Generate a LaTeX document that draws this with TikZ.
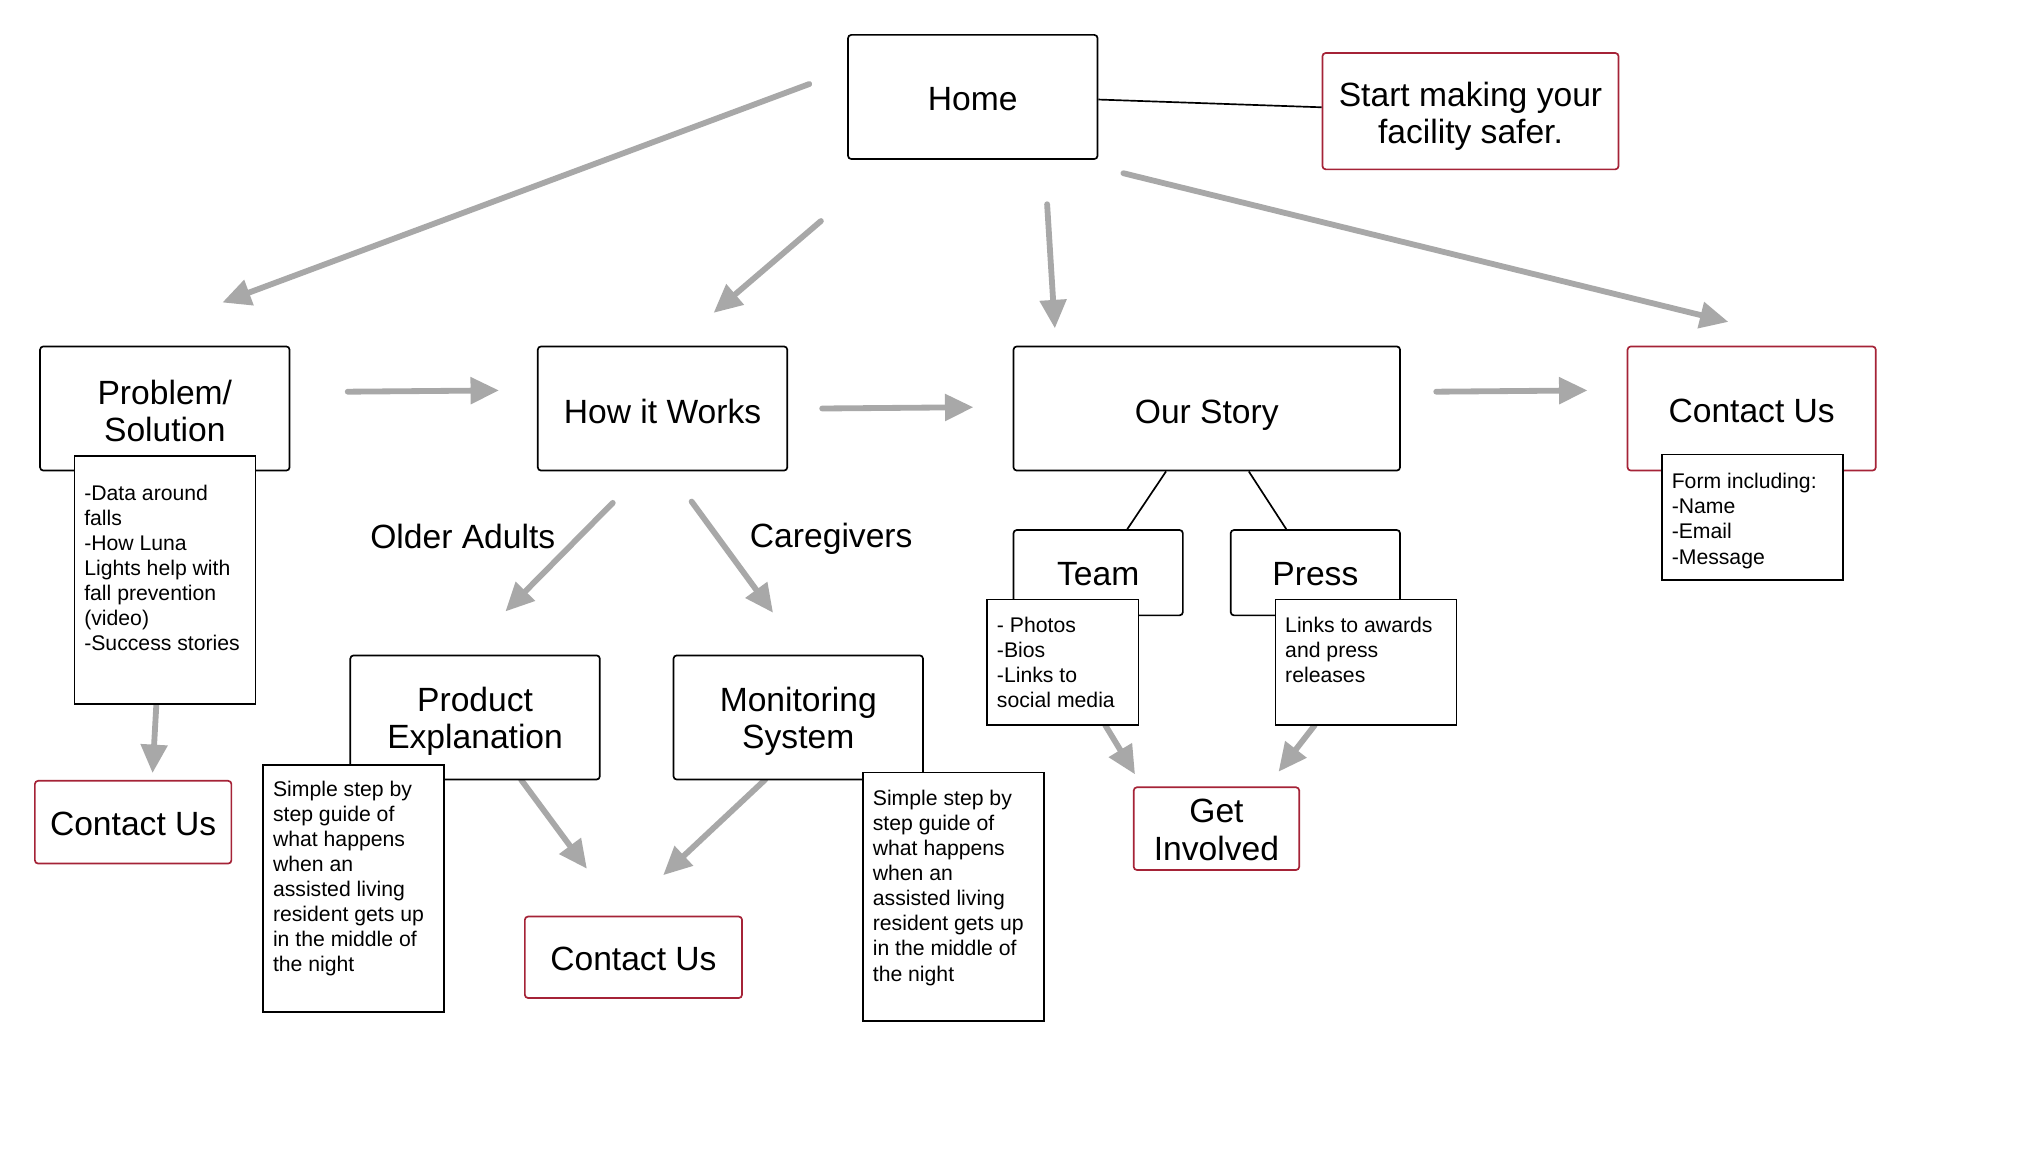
\documentclass[tikz,border=0pt]{standalone}
\usepackage{fontspec}
\setmainfont{Liberation Sans}
\usetikzlibrary{arrows.meta,calc}
\definecolor{arrgray}{RGB}{168,168,168}
\definecolor{boxred}{RGB}{165,35,55}
\begin{document}
\begin{tikzpicture}[x=1pt,y=-1pt,
  mainbox/.style={draw=black, line width=1.3pt, rounded corners=2.5pt, fill=white, inner sep=0pt},
  redbox/.style={mainbox, draw=boxred},
  boxtext/.style={align=center, inner sep=0pt, font=\fontsize{26}{29}\selectfont},
  notebox/.style={draw=black, line width=1.3pt, fill=white, inner sep=0pt, anchor=north west},
  notetext/.style={align=left, inner sep=0pt, anchor=north west, font=\fontsize{16.4}{19.4}\selectfont},
  flow/.style={draw=arrgray, line width=4.5pt, line cap=round, -{Triangle[length=22pt,width=20pt]}},
  link/.style={draw=black, line width=1.3pt},
  lbl/.style={inner sep=0pt, font=\fontsize{26}{29}\selectfont}]
\useasboundingbox[fill=white] (0,0) rectangle (1568,905);

% arrow end points
\coordinate (a1s) at (626,65);   \coordinate (a1e) at (172,234);
\coordinate (a2s) at (635,171);  \coordinate (a2e) at (552,242);
\coordinate (a3s) at (810,158);  \coordinate (a3e) at (816,254);
\coordinate (a4s) at (869,134);  \coordinate (a4e) at (1337,249);
\coordinate (a5s) at (269,303);  \coordinate (a5e) at (386,302);
\coordinate (a6s) at (636,316);  \coordinate (a6e) at (753,315);
\coordinate (a7s) at (1111,303); \coordinate (a7e) at (1228,302);
\coordinate (a8s) at (474,389);  \coordinate (a8e) at (391,473);
\coordinate (a9s) at (535,388);  \coordinate (a9e) at (598,474);
\coordinate (a10s) at (121,544); \coordinate (a10e) at (118,598);
\coordinate (a11s) at (403,603); \coordinate (a11e) at (454,672);
\coordinate (a12s) at (592,603); \coordinate (a12e) at (513,677);
\coordinate (a13s) at (855,561); \coordinate (a13e) at (878,599);
\coordinate (a14s) at (1017,561);\coordinate (a14e) at (989,597);

\foreach \i in {1,...,14} { \draw[flow] (a\i s) -- (a\i e); }

% main boxes
\node[mainbox, minimum width=193, minimum height=96] (home) at (752.5,75) {};
\node[boxtext] (homet) at ($(home)+(0,2)$) {Home};
\node[redbox, minimum width=229, minimum height=90] (start) at (1137.5,86) {};
\node[boxtext] (startt) at ($(start)+(0,4)$) {Start making your\\facility safer.};
\node[mainbox, minimum width=193, minimum height=96] (prob) at (127.5,316) {};
\node[boxtext] (probt0) at ($(prob)+(0,2)$) {Problem/\\Solution};
\node[mainbox, minimum width=193, minimum height=96] (how) at (512.5,316) {};
\node[boxtext] (howt) at ($(how)+(0,2)$) {How it Works};
\node[mainbox, minimum width=299, minimum height=96] (ours) at (933.5,316) {};
\node[boxtext] (ourst) at ($(ours)+(0,5)$) {Our Story};
\node[redbox, minimum width=192, minimum height=96] (contr) at (1355,316) {};
\node[boxtext] (contrt) at ($(contr)+(0,2)$) {Contact Us};
\node[mainbox, minimum width=131, minimum height=66] (team) at (849.5,443) {};
\node[boxtext] (teamt0) at ($(team)+(0,1)$) {Team};
\node[mainbox, minimum width=131, minimum height=66] (press) at (1017.5,443) {};
\node[boxtext] (presst0) at ($(press)+(0,1)$) {Press};
\node[redbox, minimum width=128, minimum height=64] (getinv) at (941,641) {};
\node[boxtext] (getinvt) at ($(getinv)+(0,1)$) {Get\\Involved};
\node[mainbox, minimum width=193, minimum height=96] (prod) at (367.5,555) {};
\node[boxtext] (prodt0) at ($(prod)+(0,3)$) {Product\\Explanation};
\node[mainbox, minimum width=193, minimum height=96] (mon) at (617.5,555) {};
\node[boxtext] (mont0) at ($(mon)+(0,3)$) {Monitoring\\System};
\node[redbox, minimum width=168, minimum height=63] (contb) at (490,740.5) {};
\node[boxtext] (contbt) at ($(contb)+(0,1)$) {Contact Us};
\node[redbox, minimum width=152, minimum height=64] (contl) at (103,636) {};
\node[boxtext] (contlt) at ($(contl)+(0,1)$) {Contact Us};

% labels
\node[lbl] (older) at (358,415) {Older Adults};
\node[lbl] (care) at (643,417) {Caregivers};

% plain links
\draw[link] ($(home.east)+(0,2)$) -- ($(start.west)+(0,-3)$);
\draw[link] ($(ours.south)+(-31.5,0)$) -- ($(team.north)+(22.5,0)$);
\draw[link] ($(ours.south)+(32.5,0)$) -- ($(press.north)+(-22.5,0)$);

% notes
\node[notebox, minimum width=140, minimum height=192] (probn) at (57,352) {};
\node[notetext] (probt) at (65,375) {-Data around\\falls\\-How Luna\\Lights help with\\fall prevention\\(video)\\-Success stories};

\node[notebox, minimum width=140, minimum height=191] (prodn) at (203,591) {};
\node[notetext] (prodt) at (211,604) {Simple step by\\step guide of\\what happens\\when an\\assisted living\\resident gets up\\in the middle of\\the night};

\node[notebox, minimum width=140, minimum height=192] (monn) at (667,597) {};
\node[notetext] (mont) at (675,611) {Simple step by\\step guide of\\what happens\\when an\\assisted living\\resident gets up\\in the middle of\\the night};

\node[notebox, minimum width=117, minimum height=97] (teamn) at (763,463) {};
\node[notetext] (teamt) at (771,477) {- Photos\\-Bios\\-Links to\\social media};

\node[notebox, minimum width=140, minimum height=97] (pressn) at (986,463) {};
\node[notetext] (presst) at (994,477) {Links to awards\\and press\\releases};

\node[notebox, minimum width=140, minimum height=97] (contn) at (1285,351) {};
\node[notetext] (contt) at (1293,366) {Form including:\\-Name\\-Email\\-Message};
\end{tikzpicture}
\end{document}
